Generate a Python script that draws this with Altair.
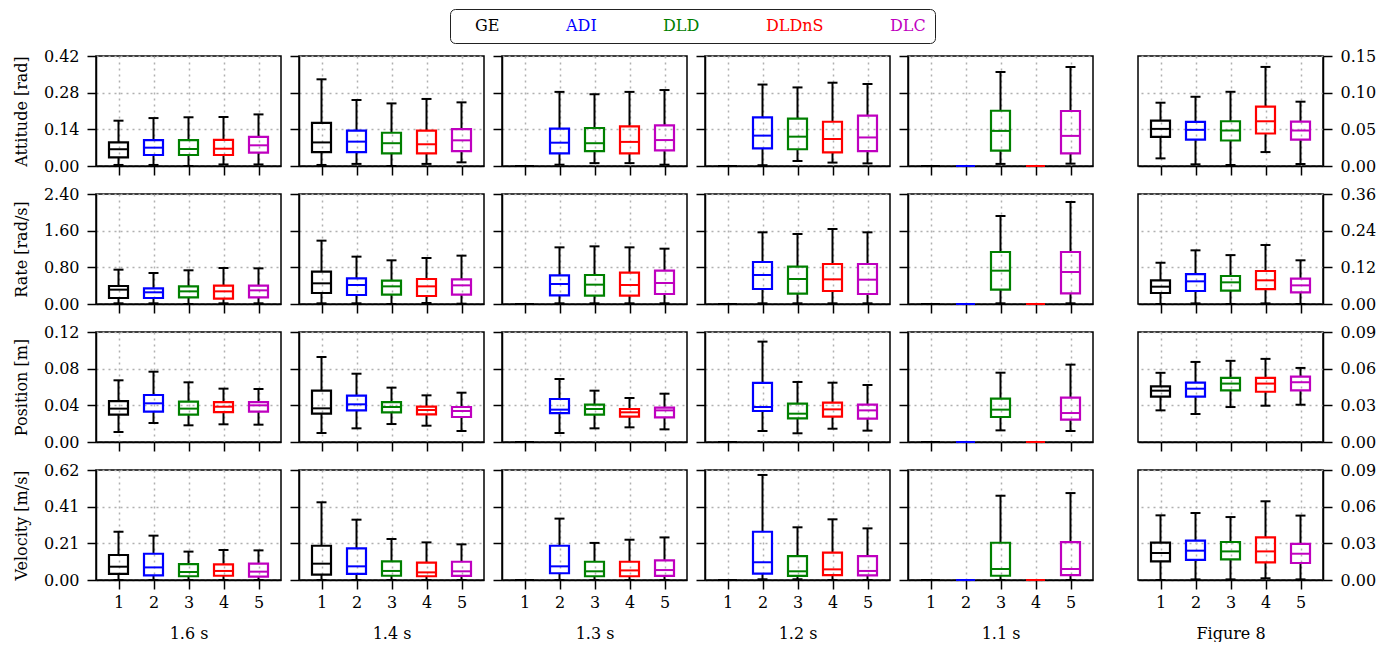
import altair as alt
import pandas as pd

METHODS = ["GE", "ADI", "DLD", "DLDnS", "DLC"]
COLORS = ["#000000", "#0000ff", "#008000", "#ff0000", "#bf00bf"]
COLUMNS = ["1.6 s", "1.4 s", "1.3 s", "1.2 s", "1.1 s", "Figure 8"]
METRICS = ["Attitude [rad]", "Rate [rad/s]", "Position [m]", "Velocity [m/s]"]
YMAX_LEFT = [0.42, 2.40, 0.12, 0.62]
YMAX_RIGHT = [0.15, 0.36, 0.09, 0.09]

# each box: [whisker low, q1, median, q3, whisker high]
ATT = {
    "1.6 s": [[0.004, 0.033, 0.064, 0.090, 0.173], [0.004, 0.042, 0.070, 0.099, 0.183], [0.0, 0.042, 0.065, 0.099, 0.186], [0.006, 0.042, 0.066, 0.100, 0.187], [0.006, 0.051, 0.079, 0.111, 0.197]],
    "1.4 s": [[0.004, 0.053, 0.090, 0.165, 0.331], [0.008, 0.053, 0.093, 0.135, 0.252], [0.0, 0.048, 0.087, 0.127, 0.239], [0.008, 0.048, 0.083, 0.135, 0.256], [0.014, 0.057, 0.098, 0.141, 0.243]],
    "1.3 s": [[0, 0, 0, 0, 0], [0.005, 0.048, 0.089, 0.143, 0.283], [0.011, 0.057, 0.087, 0.145, 0.274], [0.011, 0.048, 0.092, 0.151, 0.283], [0.005, 0.060, 0.099, 0.155, 0.290]],
    "1.2 s": [[0, 0, 0, 0, 0], [0.003, 0.067, 0.116, 0.186, 0.311], [0.019, 0.064, 0.112, 0.181, 0.300], [0.013, 0.052, 0.103, 0.169, 0.318], [0.010, 0.057, 0.109, 0.192, 0.313]],
    "1.1 s": [[0, 0, 0, 0, 0], [0, 0, 0, 0, 0], [0.008, 0.059, 0.134, 0.211, 0.359], [0, 0, 0, 0, 0], [0.009, 0.048, 0.115, 0.210, 0.378]],
    "Figure 8": [[0.0104, 0.0398, 0.0506, 0.0619, 0.0863], [0.0023, 0.0361, 0.0493, 0.0601, 0.0944], [0.0014, 0.0348, 0.0484, 0.0610, 0.1012], [0.019, 0.0443, 0.061, 0.0809, 0.1351], [0.0027, 0.0361, 0.0484, 0.0606, 0.0877]],
}
RATE = {
    "1.6 s": [[0.015, 0.131, 0.313, 0.393, 0.749], [0.015, 0.131, 0.255, 0.342, 0.676], [0.0, 0.145, 0.276, 0.385, 0.735], [0.015, 0.116, 0.276, 0.400, 0.785], [0.015, 0.145, 0.298, 0.400, 0.778]],
    "1.4 s": [[0.015, 0.240, 0.451, 0.705, 1.382], [0.015, 0.196, 0.415, 0.560, 1.033], [0.0, 0.204, 0.385, 0.509, 0.953], [0.022, 0.175, 0.385, 0.545, 1.004], [0.007, 0.204, 0.407, 0.538, 1.055]],
    "1.3 s": [[0, 0, 0, 0, 0], [0.015, 0.189, 0.436, 0.625, 1.236], [0.015, 0.182, 0.422, 0.633, 1.258], [0.015, 0.182, 0.415, 0.684, 1.236], [0.015, 0.218, 0.458, 0.727, 1.207]],
    "1.2 s": [[0, 0, 0, 0, 0], [0.015, 0.327, 0.633, 0.916, 1.564], [0.015, 0.225, 0.545, 0.815, 1.527], [0.015, 0.284, 0.538, 0.873, 1.636], [0.015, 0.218, 0.531, 0.873, 1.564]],
    "1.1 s": [[0, 0, 0, 0, 0], [0, 0, 0, 0, 0], [0.015, 0.313, 0.727, 1.135, 1.920], [0, 0, 0, 0, 0], [0.015, 0.233, 0.698, 1.135, 2.225]],
    "Figure 8": [[0.0, 0.036, 0.0567, 0.0775, 0.135], [0.002, 0.0425, 0.0742, 0.098, 0.1756], [0.0, 0.0436, 0.0709, 0.0916, 0.160], [0.002, 0.049, 0.0775, 0.108, 0.193], [0.0, 0.038, 0.061, 0.083, 0.143]],
}
POS = {
    "1.6 s": [[0.0109, 0.0298, 0.0364, 0.0447, 0.0673], [0.0207, 0.0331, 0.0422, 0.0513, 0.0767], [0.0182, 0.0298, 0.0364, 0.0440, 0.0651], [0.0193, 0.0327, 0.0385, 0.0436, 0.0582], [0.0189, 0.0331, 0.0400, 0.0436, 0.0578]],
    "1.4 s": [[0.0098, 0.0309, 0.0367, 0.0560, 0.0927], [0.0149, 0.0345, 0.0411, 0.0505, 0.0745], [0.0196, 0.0324, 0.0382, 0.0436, 0.0593], [0.0178, 0.0302, 0.0349, 0.0385, 0.0509], [0.0120, 0.0273, 0.0338, 0.0382, 0.0538]],
    "1.3 s": [[0, 0, 0, 0, 0], [0.0098, 0.0316, 0.0353, 0.0469, 0.0687], [0.0149, 0.0298, 0.0360, 0.0407, 0.0560], [0.0160, 0.0276, 0.0324, 0.0360, 0.0480], [0.0138, 0.0269, 0.0345, 0.0375, 0.0527]],
    "1.2 s": [[0, 0, 0, 0, 0], [0.0120, 0.0338, 0.0382, 0.0644, 0.1095], [0.0095, 0.0258, 0.0309, 0.0418, 0.0655], [0.0145, 0.0276, 0.0356, 0.0429, 0.0647], [0.0124, 0.0255, 0.0345, 0.0407, 0.0622]],
    "1.1 s": [[0, 0, 0, 0, 0], [0, 0, 0, 0, 0], [0.0127, 0.0273, 0.0353, 0.0473, 0.0756], [0, 0, 0, 0, 0], [0.0120, 0.0244, 0.0316, 0.0484, 0.0844]],
    "Figure 8": [[0.0259, 0.0371, 0.0420, 0.0455, 0.0566], [0.0229, 0.0371, 0.0436, 0.0486, 0.0655], [0.0286, 0.0422, 0.0478, 0.0524, 0.0664], [0.0297, 0.0411, 0.0478, 0.0524, 0.0680], [0.0305, 0.0422, 0.0489, 0.0535, 0.0606]],
}
VEL = {
    "1.6 s": [[0.0, 0.034, 0.075, 0.141, 0.272], [0.0, 0.026, 0.071, 0.148, 0.250], [0.0, 0.021, 0.045, 0.090, 0.160], [0.0, 0.024, 0.051, 0.088, 0.169], [0.0, 0.019, 0.047, 0.092, 0.167]],
    "1.4 s": [[0.0, 0.030, 0.092, 0.193, 0.438], [0.0, 0.034, 0.077, 0.178, 0.340], [0.0, 0.024, 0.051, 0.105, 0.231], [0.0, 0.021, 0.043, 0.098, 0.212], [0.0, 0.023, 0.049, 0.103, 0.201]],
    "1.3 s": [[0, 0, 0, 0, 0], [0.0, 0.038, 0.077, 0.193, 0.346], [0.0, 0.021, 0.049, 0.103, 0.209], [0.0, 0.021, 0.054, 0.103, 0.227], [0.0, 0.023, 0.056, 0.111, 0.240]],
    "1.2 s": [[0, 0, 0, 0, 0], [0.004, 0.036, 0.100, 0.272, 0.592], [0.004, 0.023, 0.049, 0.135, 0.297], [0.0, 0.028, 0.060, 0.154, 0.342], [0.0, 0.026, 0.051, 0.135, 0.291]],
    "1.1 s": [[0, 0, 0, 0, 0], [0, 0, 0, 0, 0], [0.0, 0.024, 0.062, 0.210, 0.475], [0, 0, 0, 0, 0], [0.0, 0.028, 0.062, 0.214, 0.490]],
    "Figure 8": [[0.0, 0.0153, 0.0221, 0.0305, 0.0529], [0.0005, 0.0164, 0.0240, 0.0322, 0.0548], [0.0005, 0.0169, 0.0234, 0.0311, 0.0515], [0.0014, 0.0145, 0.0234, 0.0349, 0.0644], [0.0005, 0.0139, 0.0215, 0.0295, 0.0527]],
}
DATA = [ATT, RATE, POS, VEL]

FONT = "DejaVu Serif"
PW, PH = 185, 110

color_expr = " : ".join(
    f"datum.label == '{m}' ? '{c}'" for m, c in zip(METHODS, COLORS)
) + " : 'black'"

LEGEND = alt.Legend(
    title=None, orient="none", legendX=354, legendY=-47, direction="horizontal",
    columns=5, symbolOpacity=0, symbolSize=0, symbolStrokeWidth=0, labelOffset=0,
    columnPadding=50, labelFont=FONT, labelFontSize=16,
    labelColor={"expr": color_expr}, padding=9, strokeColor="#222222",
    fillColor="white", cornerRadius=5,
)


def panel(ri, ci):
    col = COLUMNS[ci]
    stats = DATA[ri][col]
    df = pd.DataFrame(stats, columns=["low", "q1", "med", "q3", "high"])
    df["pos"] = [1, 2, 3, 4, 5]
    df["method"] = METHODS
    last = ci == len(COLUMNS) - 1
    bottom = ri == len(METRICS) - 1
    ymax = YMAX_RIGHT[ri] if last else YMAX_LEFT[ri]
    ticks = [round(ymax * k / 3, 6) for k in range(4)]
    yaxis_kw = dict(values=ticks, format=".2f", orient="right" if last else "left",
                    labels=(ci == 0 or last), labelPadding=8, titlePadding=14)
    yaxis_kw["title"] = METRICS[ri] if ci == 0 else None
    xaxis_kw = dict(values=[1, 2, 3, 4, 5], format="d", labels=bottom, labelPadding=5,
                    titlePadding=15)
    xaxis_kw["title"] = col if bottom else None
    xs = alt.Scale(domain=[0.5, 5.5], nice=False, zero=False)
    ys = alt.Scale(domain=[0, ymax], nice=False)
    X = alt.X("pos:Q", scale=xs, axis=alt.Axis(**xaxis_kw))

    def Y(f):
        return alt.Y(f"{f}:Q", scale=ys, axis=alt.Axis(**yaxis_kw))

    base = alt.Chart(df).encode(x=X)
    col_enc = alt.Color("method:N", scale=alt.Scale(domain=METHODS, range=COLORS), legend=LEGEND)
    w_lo = base.mark_rule(color="black", strokeWidth=2, opacity=1).encode(y=Y("low"), y2="q1:Q")
    w_hi = base.mark_rule(color="black", strokeWidth=2, opacity=1).encode(y=Y("q3"), y2="high:Q")
    c_lo = base.mark_tick(orient="horizontal", color="black", size=10, thickness=2, opacity=1).encode(y=Y("low"))
    c_hi = base.mark_tick(orient="horizontal", color="black", size=10, thickness=2, opacity=1).encode(y=Y("high"))
    box = base.mark_bar(filled=False, size=19, strokeWidth=2.2, opacity=1).encode(
        y=Y("q1"), y2="q3:Q", color=col_enc)
    med = base.mark_tick(orient="horizontal", size=19, thickness=2, opacity=1).encode(
        y=Y("med"), color=col_enc)
    return alt.layer(w_lo, w_hi, c_lo, c_hi, box, med).properties(width=PW, height=PH)


def spacer():
    d = pd.DataFrame({"a": [0]})
    return alt.Chart(d).mark_point(opacity=0).encode(
        x=alt.X("a:Q", axis=None), y=alt.Y("a:Q", axis=None)
    ).properties(width=9, height=PH, view=alt.ViewBackground(strokeOpacity=0))


cells = []
for ri in range(len(METRICS)):
    for ci in range(len(COLUMNS)):
        if ci == len(COLUMNS) - 1:
            cells.append(spacer())
        cells.append(panel(ri, ci))

chart = alt.concat(
    *cells, columns=7, spacing=alt.RowColnumber(row=28, column=18),
    bounds="flush", align="each",
).properties(
    padding={"left": 4, "top": 0, "right": 5, "bottom": 0}
).configure_view(
    stroke="black", strokeWidth=1.5
).configure_axis(
    domainColor="black", domainWidth=1.5, tickColor="black", tickWidth=1.5, tickSize=9,
    labelFont=FONT, labelFontSize=16, labelColor="black",
    titleFont=FONT, titleFontSize=16, titleFontWeight="normal", titleColor="black",
    gridColor="#b0b0b0", gridDash=[2, 4], gridWidth=1.5,
)

chart.save("out.html", embed_options={"renderer": "svg", "actions": False})
